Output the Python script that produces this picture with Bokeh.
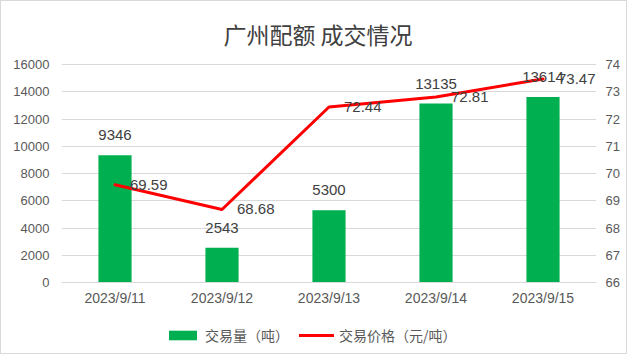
from bokeh.plotting import figure
from bokeh.models import (FactorRange, Range1d, LinearAxis, ColumnDataSource, LabelSet, Label,
                          Legend, LegendItem, FixedTicker)
from bokeh.core.properties import value
from bokeh.embed import file_html
from bokeh.resources import INLINE

dates = ["2023/9/11", "2023/9/12", "2023/9/13", "2023/9/14", "2023/9/15"]
volume = [9346, 2543, 5300, 13135, 13614]
price = [69.59, 68.68, 72.44, 72.81, 73.47]
left_ticks = [0, 2000, 4000, 6000, 8000, 10000, 12000, 14000, 16000]
right_ticks = [66, 67, 68, 69, 70, 71, 72, 73, 74]
title_text = "广州配额 成交情况"
bar_name = "交易量（吨）"
line_name = "交易价格（元/吨）"

src = ColumnDataSource(dict(
    x=dates, v=volume, p=price,
    vt=[str(v) for v in volume], pt=[f"{v:.2f}" for v in price],
))

CJK = "Noto Sans CJK SC"
NUM = "Liberation Sans"

# layout (pixels): the frame spans the whole height; the value axes occupy a sub-band
FRAME_H = 352
TOP_PX, BOT_PX = 63, 281          # positions of the top / bottom tick inside the frame
k1 = (BOT_PX - TOP_PX) / (left_ticks[-1] - left_ticks[0])
k2 = (BOT_PX - TOP_PX) / (right_ticks[-1] - right_ticks[0])
yl = Range1d(left_ticks[0] - (FRAME_H - BOT_PX) / k1, left_ticks[-1] + TOP_PX / k1)
yr = Range1d(right_ticks[0] - (FRAME_H - BOT_PX) / k2, right_ticks[-1] + TOP_PX / k2)

p = figure(frame_width=535, frame_height=FRAME_H, x_range=FactorRange(factors=dates),
           y_range=yl, output_backend="svg", toolbar_location=None,
           min_border_left=60, min_border_right=30, min_border_top=0, min_border_bottom=0,
           background_fill_color="white", border_fill_color="white")
p.outline_line_color = None
p.extra_y_ranges = {"price": yr}

bars = p.vbar(x="x", top="v", bottom=0, width=0.31, source=src,
              fill_color="#00B050", line_color=None)
line = p.line(x="x", y="p", source=src, y_range_name="price", line_color="#FF0000",
              line_width=3, line_join="round", line_cap="round")

p.add_layout(LabelSet(x="x", y="v", text="vt", source=src, y_offset=20, text_align="center",
                      text_baseline="middle", text_font_size="15px", text_font=value(NUM),
                      text_color="#404040"))
p.add_layout(LabelSet(x="x", y="p", text="pt", source=src, y_range_name="price", x_offset=15,
                      text_align="left", text_baseline="middle", text_font_size="15px",
                      text_font=value(NUM), text_color="#404040"))

# title
p.add_layout(Label(x=len(dates) / 2, y=left_ticks[-1] + (TOP_PX - 32) / k1, x_offset=-11,
                   text=title_text, text_align="center", text_baseline="middle",
                   text_font=CJK, text_font_size="23px", text_color="#404040"))

# axes
p.yaxis.ticker = FixedTicker(ticks=left_ticks)
ra = LinearAxis(y_range_name="price", ticker=FixedTicker(ticks=right_ticks))
p.add_layout(ra, "right")
for ax in (p.yaxis[0], ra):
    ax.axis_line_color = None
    ax.major_tick_line_color = None
    ax.major_tick_out = 0
    ax.major_tick_in = 0
    ax.minor_tick_line_color = None
    ax.major_label_text_font = NUM
    ax.major_label_text_font_size = "13px"
    ax.major_label_text_color = "#595959"
p.yaxis[0].major_label_standoff = 12
ra.major_label_standoff = 9

xa = p.xaxis[0]
xa.fixed_location = 0
xa.axis_line_color = "#D9D9D9"
xa.major_tick_line_color = None
xa.major_tick_out = 0
xa.major_tick_in = 0
xa.major_label_text_font = NUM
xa.major_label_text_font_size = "14px"
xa.major_label_text_color = "#595959"
xa.major_label_standoff = 7

p.xgrid.grid_line_color = None
p.ygrid.grid_line_color = "#D9D9D9"
p.ygrid.ticker = FixedTicker(ticks=left_ticks)

legend = Legend(items=[LegendItem(label=bar_name, renderers=[bars]),
                       LegendItem(label=line_name, renderers=[line])],
                orientation="horizontal", location=(104, 8),
                label_text_font=CJK, label_text_font_size="14px", label_text_color="#595959",
                glyph_width=35, glyph_height=12, label_standoff=5, spacing=10,
                padding=0, margin=0, border_line_color=None, background_fill_alpha=0)
p.add_layout(legend, "center")

p.styles = {"border": "1px solid #D9D9D9", "box-sizing": "border-box"}

open("out.html", "w").write(file_html(p, INLINE))
